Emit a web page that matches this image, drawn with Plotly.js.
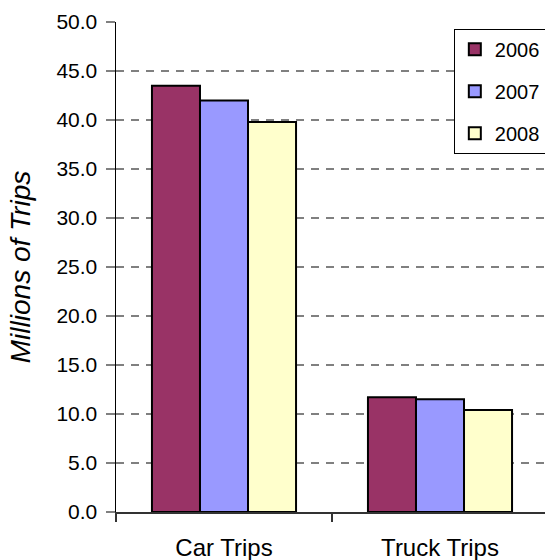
<!DOCTYPE html>
<html>
<head>
<meta charset="utf-8">
<script src="https://cdn.plot.ly/plotly-3.0.1.min.js"></script>
<style>html,body{margin:0;padding:0;background:#fff;overflow:hidden;width:545px;height:560px;}#chart{width:548px;height:560px;}</style>
</head>
<body>
<div id="chart"></div>
<script>
const categories = ["Car Trips", "Truck Trips"];
const years = ["2006", "2007", "2008"];
const values2006 = [43.5, 11.7];
const values2007 = [42.0, 11.5];
const values2008 = [39.8, 10.4];
const yTickVals = [0, 5, 10, 15, 20, 25, 30, 35, 40, 45, 50];
const yTickText = ["0.0", "5.0", "10.0", "15.0", "20.0", "25.0", "30.0", "35.0", "40.0", "45.0", "50.0"];
const colors = ["#993366", "#9999FF", "#FFFFCC"];

const series = [values2006, values2007, values2008];
const FONT = "Liberation Sans, Arial, sans-serif";

const traces = series.map((vals, i) => ({
  type: "bar",
  name: years[i],
  x: categories,
  y: vals,
  legendgroup: "g" + i,
  marker: {color: colors[i], line: {color: "#000000", width: 2}},
  hoverinfo: "skip"
}));

const layout = {
  width: 548,
  height: 560,
  margin: {l: 116, r: 0, t: 22, b: 48, pad: 0, autoexpand: false},
  paper_bgcolor: "#ffffff",
  plot_bgcolor: "#ffffff",
  font: {family: FONT, color: "#000000", size: 20},
  barmode: "group",
  bargap: 0.333,
  bargroupgap: 0,
  showlegend: true,
  legend: {
    x: 0.782, xanchor: "left",
    y: 0.986, yanchor: "top",
    bgcolor: "#ffffff",
    bordercolor: "#000000",
    borderwidth: 1,
    font: {family: FONT, size: 20, color: "#000000"},
    tracegroupgap: 13,
    traceorder: "grouped"
  },
  xaxis: {
    type: "category",
    range: [-0.5, 1.5],
    automargin: false,
    showgrid: false,
    zeroline: false,
    showline: true,
    linecolor: "#333333",
    linewidth: 1.5,
    ticks: "outside",
    tickson: "boundaries",
    ticklen: 8,
    tickwidth: 1.5,
    tickcolor: "#333333",
    ticklabelstandoff: 14,
    tickfont: {family: FONT, size: 24, color: "#000000"},
    fixedrange: true
  },
  yaxis: {
    range: [0, 50],
    automargin: false,
    tickvals: yTickVals,
    ticktext: yTickText,
    showgrid: true,
    gridcolor: "#808080",
    gridwidth: 1.5,
    griddash: "8px,7px",
    zeroline: false,
    showline: true,
    linecolor: "#000000",
    linewidth: 1.5,
    ticks: "outside",
    ticklen: 9,
    tickwidth: 1.5,
    tickcolor: "#808080",
    ticklabelstandoff: 4,
    tickfont: {family: FONT, size: 21, color: "#000000"},
    title: {text: "<i>Millions of Trips</i>", font: {family: FONT, size: 28, color: "#000000"}, standoff: 17},
    fixedrange: true
  }
};

Plotly.newPlot("chart", traces, layout, {displayModeBar: false, staticPlot: true});
</script>
</body>
</html>
